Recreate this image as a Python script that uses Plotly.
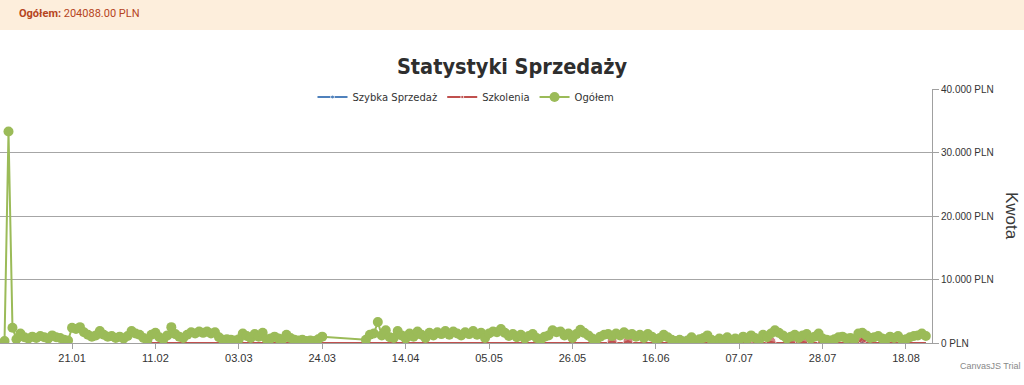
import plotly.graph_objects as go
import pandas as pd

# ---------------- data ----------------
start_date = "2024-01-04"
# Ogółem daily values (PLN), Jan 4 .. Aug 23, None = no data (gap)
ogolem = [
    # Jan 4-31
    300, 33300, 2400, 600, 1500, 900, 700, 1000, 800, 1100, 900, 700, 1200, 900, 800, 500, 400,
    2400, 2200, 2500, 1700, 1300, 1000, 1200, 1900, 1300, 1000, 1100,
    # Feb 1-29
    800, 1000, 700, 1100, 1900, 1500, 1300, 800, 500, 1300, 1600, 900, 600, 1200, 2500, 1400,
    1000, 800, 1300, 1700, 1500, 1800, 1600, 1800, 1500, 1700, 900, 500, 600,
    # Mar 1-31
    500, 400, 600, 1500, 1100, 800, 1400, 1000, 1600, 600, 700, 1000, 700, 600, 1300, 800,
    500, 400, 500, 300, 400, 300, 600, 1000, None, None, None, None, None, None, None,
    # Apr 1-30
    None, None, None, 500, 1300, 1500, 3300, 1200, 2000, 900, 800, 1900, 1200, 700, 1500, 1000,
    1800, 1300, 800, 1600, 1200, 1700, 1400, 1900, 1300, 1800, 1500, 1200, 1700, 1400,
    # May 1-31
    1900, 1300, 1600, 800, 1500, 1800, 1700, 2200, 1600, 1100, 1400, 900, 1300, 700, 1100, 1400,
    800, 500, 1000, 1200, 2000, 1700, 1800, 1200, 1500, 800, 1400, 2100, 1600, 1200, 700,
    # Jun 1-30
    500, 1000, 1300, 1400, 1100, 1500, 1200, 1700, 1300, 1400, 1000, 1300, 800, 1400, 1000, 600,
    800, 1300, 900, 500, 300, 500, 200, 400, 900, 300, 600, 800, 1200, 500,
    # Jul 1-31
    300, 700, 500, 900, 400, 700, 500, 1000, 600, 1200, 800, 400, 1300, 900, 1500, 2000,
    1600, 1200, 700, 1000, 1300, 800, 1200, 1400, 700, 1000, 1500, 700, 500, 400, 600,
    # Aug 1-23
    900, 1000, 700, 800, 600, 1500, 1600, 1200, 800, 900, 1100, 700, 600, 1000, 800, 1100,
    500, 600, 900, 1100, 1200, 1500, 1100,
]
ogolem_dates = pd.date_range(start_date, periods=len(ogolem), freq="D")

szkolenia_dates = ["2024-02-08", "2024-06-04", "2024-06-05", "2024-06-06", "2024-06-08", "2024-06-09",
                   "2024-06-10", "2024-07-08", "2024-07-09", "2024-07-10", "2024-07-14", "2024-07-15",
                   "2024-07-16", "2024-07-19", "2024-07-20", "2024-07-21", "2024-07-22", "2024-07-23",
                   "2024-07-24", "2024-07-27", "2024-07-28", "2024-07-29", "2024-08-06", "2024-08-07",
                   "2024-08-08", "2024-08-23"]
szkolenia = [0, 0, 300, 0, 0, 300, 0, 0, 200, 0, 0, 200, 0, 0, 200, 0, 0, 200, 0, 0, 200, 0, 0, 700, 0, 0]

szybka_dates = ["2024-02-08", "2024-06-22", "2024-06-23", "2024-06-24", "2024-06-25", "2024-06-26",
                "2024-08-07", "2024-08-08", "2024-08-09", "2024-08-23"]
szybka = [0, 0, 300, 200, 250, 0, 0, 900, 0, 0]

y_ticks = [0, 10000, 20000, 30000, 40000]
y_tick_labels = ["0 PLN", "10.000 PLN", "20.000 PLN", "30.000 PLN", "40.000 PLN"]

series_names = ["Szybka Sprzedaż", "Szkolenia", "Ogółem"]
total_text = "204088.00 PLN"

# ---------------- figure ----------------
BLUE, RED, GREEN = "#4F81BC", "#C0504E", "#9BBB58"


def sizes(vals):
    return [10 if v else 0 for v in vals]


fig = go.Figure()
fig.add_trace(go.Scatter(x=szybka_dates, y=szybka, name=series_names[0], mode="lines+markers",
                         line=dict(color=BLUE, width=2),
                         marker=dict(color=BLUE, size=sizes(szybka))))
fig.add_trace(go.Scatter(x=szkolenia_dates, y=szkolenia, name=series_names[1], mode="lines+markers",
                         line=dict(color=RED, width=2),
                         marker=dict(color=RED, size=sizes(szkolenia))))
fig.add_trace(go.Scatter(x=ogolem_dates, y=ogolem, name=series_names[2], mode="lines+markers",
                         connectgaps=True,
                         line=dict(color=GREEN, width=2),
                         marker=dict(color=GREEN, size=10)))

W, H = 1024, 385
L, R, T, B = 0, 92, 89, 42
pw, ph = W - L - R, H - T - B


def px_x(x):
    return (x - L) / pw


def px_y(y):
    return (H - B - y) / ph


fig.update_layout(
    width=W, height=H,
    margin=dict(l=L, r=R, t=T, b=B, autoexpand=False),
    paper_bgcolor="white", plot_bgcolor="white",
    font=dict(family="Liberation Sans", color="#333333"),
    title=dict(text="<b>Statystyki Sprzedaży</b>", x=0.5, xref="container", xanchor="center",
               y=1 - 66 / H, yref="container", yanchor="middle",
               font=dict(family="DejaVu Sans Condensed, Roboto Condensed, Liberation Sans",
                         size=21.5, color="#2e2e2e")),
    showlegend=True,
    legend=dict(orientation="h", x=0.5, xanchor="center", y=px_y(97), yanchor="middle",
                font=dict(family="DejaVu Sans", size=10, color="#333333"),
                bgcolor="rgba(0,0,0,0)", itemwidth=30),
    xaxis=dict(type="date", range=["2024-01-02 20:39", "2024-08-24 13:12"],
               tick0="2024-01-21", dtick=21 * 86400000, tickformat="%d.%m",
               showgrid=False, zeroline=False, showline=True, linecolor="#A0A0A0", linewidth=1,
               ticks="outside", ticklen=5, tickcolor="#A0A0A0",
               tickfont=dict(family="Liberation Sans", size=11, color="#333333"), automargin=False),
    yaxis=dict(side="right", range=[0, 40000], tickvals=y_ticks, ticktext=y_tick_labels,
               showgrid=True, gridcolor="#A6A6A6", gridwidth=1, zeroline=False,
               showline=True, linecolor="#A0A0A0", linewidth=1,
               ticks="outside", ticklen=6, tickcolor="#A0A0A0",
               tickfont=dict(family="Liberation Sans", size=10, color="#333333"), automargin=False),
    shapes=[dict(type="rect", xref="paper", yref="paper", x0=px_x(0), x1=px_x(W),
                 y0=px_y(30), y1=px_y(0), fillcolor="#FDEEDC", line=dict(width=0), layer="below")],
    annotations=[
        dict(text="<b>Ogółem:</b> " + total_text, xref="paper", yref="paper", x=px_x(17), y=px_y(13),
             xanchor="left", yanchor="middle", showarrow=False,
             font=dict(family="Roboto", size=11, color="#B5441C")),
        dict(text="Kwota", xref="paper", yref="paper", x=px_x(1012), y=px_y(216), textangle=90,
             xanchor="center", yanchor="middle", showarrow=False,
             font=dict(family="Liberation Sans", size=17, color="#3a3a3a")),
        dict(text="CanvasJS Trial", xref="paper", yref="paper", x=px_x(990), y=px_y(366),
             xanchor="center", yanchor="middle", showarrow=False,
             font=dict(family="Liberation Sans", size=9, color="#888888")),
    ],
)

fig.write_html("out.html", config={"displayModeBar": False},
               post_script="document.body.style.margin='0';document.body.style.overflow='hidden';")
